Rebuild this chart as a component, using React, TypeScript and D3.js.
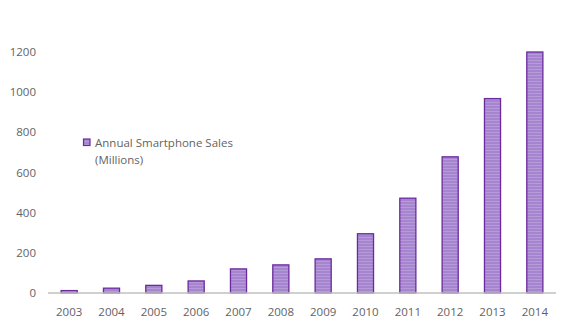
import React from "react";
import * as d3 from "d3";

const years = ["2003","2004","2005","2006","2007","2008","2009","2010","2011","2012","2013","2014"];
const sales = [12, 24, 38, 60, 120, 140, 170, 295, 472, 678, 968, 1200];
const yTicks = [0, 200, 400, 600, 800, 1000, 1200];
const legendLines = ["Annual Smartphone Sales", "(Millions)"];

export default function App() {
  const W = 567, H = 327;
  const x = d3.scaleBand().domain(years).range([48, 556]).paddingInner(0.62).paddingOuter(0.31);
  const y = d3.scaleLinear().domain([0, 1200]).range([293, 52]);
  const font = "'Open Sans', 'Liberation Sans', sans-serif";
  return (
    <svg width={W} height={H} style={{ position: "absolute", left: 0, top: 0, background: "#fff" }}>
      <defs>
        <pattern id="stripes" width="4" height="3" patternUnits="userSpaceOnUse">
          <rect width="4" height="3" fill="#a784cf" />
          <rect width="4" height="1" fill="#b69bd9" />
        </pattern>
      </defs>
      {yTicks.map(t => (
        <text key={t} x={36} y={y(t)} dy="0.35em" textAnchor="end" fontFamily={font} fontSize={11.5} fill="#636363">{t}</text>
      ))}
      {years.map((yr, i) => (
        <rect key={yr} x={x(yr)} y={y(sales[i])} width={x.bandwidth()} height={y(0) - y(sales[i])}
          fill="url(#stripes)" stroke="#6b2a9e" strokeWidth={1.3} />
      ))}
      <line x1={48} x2={556} y1={y(0)} y2={y(0)} stroke="#c0c0c0" strokeWidth={1.5} />
      {years.map(yr => (
        <text key={yr} x={x(yr)! + x.bandwidth() / 2} y={316} textAnchor="middle" fontFamily={font} fontSize={11.5} fill="#636363">{yr}</text>
      ))}
      <rect x={83.5} y={139} width={6.5} height={6.5} fill="url(#stripes)" stroke="#6b2a9e" strokeWidth={1.2} />
      {legendLines.map((l, i) => (
        <text key={i} x={95} y={147 + i * 17} fontFamily={font} fontSize={11.5} fill="#636363">{l}</text>
      ))}
    </svg>
  );
}
